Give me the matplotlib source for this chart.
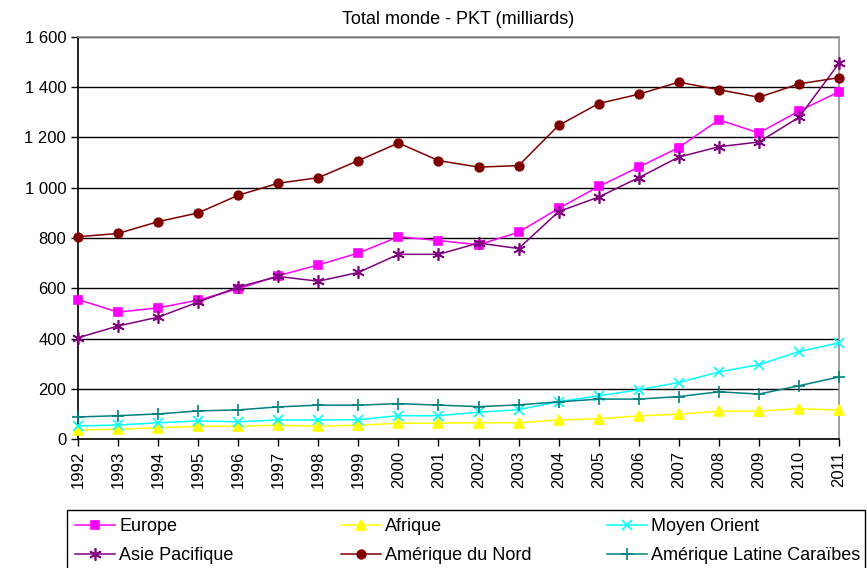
import matplotlib
matplotlib.use('Agg')
import matplotlib.pyplot as plt
import matplotlib.ticker as mticker
from matplotlib.patches import Rectangle

plt.rcParams['font.family'] = ['Liberation Sans', 'DejaVu Sans']

years = list(range(1992, 2012))

europe = [555, 505, 522, 553, 598, 650, 693, 740, 805, 790,
          773, 823, 918, 1005, 1082, 1160, 1270, 1218, 1305, 1382]
afrique = [36, 39, 45, 51, 51, 55, 51, 55, 63, 63,
           65, 65, 76, 81, 92, 99, 111, 111, 121, 115]
moyen_orient = [52, 56, 65, 72, 69, 76, 76, 77, 93, 93,
                107, 117, 149, 172, 196, 225, 267, 296, 348, 383]
asie_pacifique = [403, 450, 485, 545, 605, 647, 628, 663, 735, 735,
                  780, 758, 905, 963, 1040, 1122, 1163, 1182, 1280, 1495]
amerique_nord = [805, 818, 865, 900, 970, 1018, 1040, 1108, 1178, 1108,
                 1082, 1088, 1248, 1335, 1372, 1420, 1390, 1360, 1413, 1438]
amerique_latine = [88, 93, 100, 112, 116, 128, 135, 135, 141, 135,
                   129, 136, 148, 159, 159, 169, 188, 179, 212, 247]

# (label, values, colour, marker, size)
series = [
    ('Europe', europe, '#FF00FF', 's', 6.2),
    ('Afrique', afrique, '#FFFF00', '^', 7),
    ('Moyen Orient', moyen_orient, '#00FFFF', 'x', 7),
    ('Asie Pacifique', asie_pacifique, '#800080', (6, 2, 0), 9),
    ('Amérique du Nord', amerique_nord, '#800000', 'o', 6.2),
    ('Amérique Latine Caraïbes', amerique_latine, '#008080', '+', 8),
]

fig = plt.figure(figsize=(8.67, 5.68), dpi=100)
ax = fig.add_axes([0.09, 0.227, 0.8777, 0.708])

lines = {}
for label, vals, col, mk, ms in series:
    ln, = ax.plot(years, vals, color=col, marker=mk, markersize=ms, linewidth=1.1,
                  markeredgewidth=1.2, label=label, clip_on=False, zorder=3)
    lines[label] = ln

ax.set_xlim(1992, 2011)
ax.set_ylim(0, 1600)
ax.set_yticks(range(0, 1601, 200))
ax.yaxis.set_major_formatter(mticker.FuncFormatter(lambda v, p: f'{int(v):,}'.replace(',', ' ')))
ax.set_xticks(years)
ax.set_xticklabels([str(y) for y in years], rotation=90)
ax.tick_params(axis='both', labelsize=12, direction='out', length=5, width=1, colors='black')
ax.grid(axis='y', color='black', linewidth=1)
ax.set_axisbelow(True)

ax.spines['left'].set_color('black')
ax.spines['bottom'].set_color('black')
ax.spines['top'].set_color('#909090')
ax.spines['right'].set_color('#909090')
for s in ax.spines.values():
    s.set_linewidth(1.2)

ax.set_title('Total monde - PKT (milliards)', fontsize=13, pad=9)

# legend: three columns at a fixed pitch, inside one frame
fig.patches.append(Rectangle((0.0773, -0.01), 0.9204, 0.112, transform=fig.transFigure,
                             facecolor='white', edgecolor='black', linewidth=1))
columns = [['Europe', 'Asie Pacifique'],
           ['Afrique', 'Amérique du Nord'],
           ['Moyen Orient', 'Amérique Latine Caraïbes']]
col_x = [0.0865, 0.3933, 0.7001]
for xs, names in zip(col_x, columns):
    leg = fig.legend([lines[k] for k in names], names, loc='upper left',
                     bbox_to_anchor=(xs, 0.088), fontsize=13, frameon=False,
                     handlelength=2.2, handletextpad=0.25, borderpad=0,
                     borderaxespad=0, labelspacing=0.68)

fig.savefig('out.png', dpi=100)
